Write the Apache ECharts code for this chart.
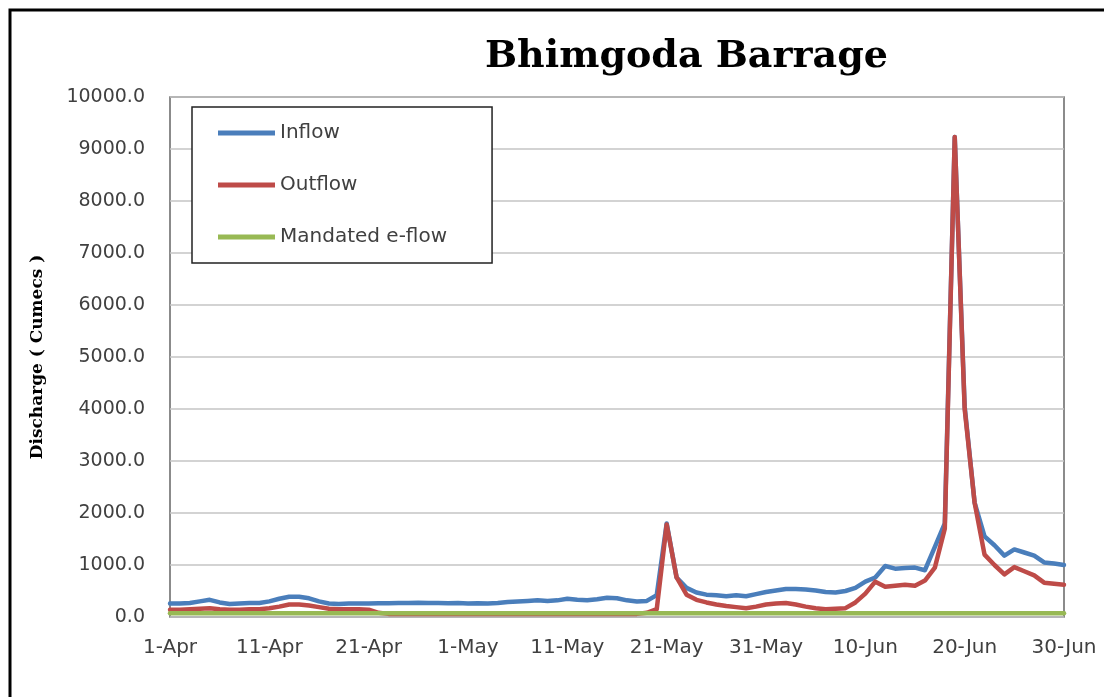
<!DOCTYPE html>
<html>
<head>
<meta charset="utf-8">
<script src="https://cdn.jsdelivr.net/npm/echarts@6/dist/echarts.min.js"></script>
<style>
  html, body { margin: 0; padding: 0; background: #fff; }
  #main { width: 1108px; height: 697px; }
</style>
</head>
<body>
<div id="main"></div>
<script>
// dates 1-Apr .. 30-Jun
const months = [['Apr', 30], ['May', 31], ['Jun', 30]];
const days = [];
months.forEach(function (m) {
  for (let d = 1; d <= m[1]; d++) days.push(d + '-' + m[0]);
});
const tickLabels = ['1-Apr', '11-Apr', '21-Apr', '1-May', '11-May', '21-May', '31-May', '10-Jun', '20-Jun', '30-Jun'];

const inflow = [
  260, 260, 270, 300, 330, 280, 250, 260, 270, 270,
  300, 350, 390, 390, 360, 300, 260, 250, 260, 260,
  260, 265, 265, 270, 270, 275, 270, 270, 265, 270,
  260, 265, 260, 270, 290, 300, 310, 320, 310, 320,
  350, 330, 320, 340, 370, 360, 320, 300, 310, 420,
  1800, 760, 560, 470, 430, 420, 400, 420, 400, 440,
  480,
  510, 540, 540, 530, 510, 480, 470, 500, 560, 680,
  760, 980, 930, 940, 950, 900, 1350, 1800, 9230, 4050,
  2200, 1550, 1380, 1180, 1300, 1240, 1180, 1050, 1030, 1000
];
const outflow = [
  140, 140, 150, 160, 170, 150, 140, 140, 150, 150,
  170, 200, 240, 240, 220, 190, 160, 150, 150, 150,
  140, 80, 60, 60, 60, 60, 60, 60, 60, 60,
  60, 60, 60, 60, 60, 60, 60, 60, 60, 60,
  60, 60, 60, 60, 60, 60, 60, 60, 80, 150,
  1780, 760, 430, 330, 280, 240, 210, 190, 170, 200,
  240,
  260, 270, 240, 200, 170, 150, 160, 170, 280, 450,
  680, 580, 600, 620, 600, 700, 950, 1700, 9230, 4000,
  2200, 1200, 1000, 820, 960, 880, 800, 660, 640, 620
];
const eflow = [
  70, 70, 70, 70, 70, 70, 70, 70, 70, 70,
  70, 70, 70, 70, 70, 70, 70, 70, 70, 70,
  70, 70, 70, 70, 70, 70, 70, 70, 70, 70,
  70, 70, 70, 70, 70, 70, 70, 70, 70, 70,
  70, 70, 70, 70, 70, 70, 70, 70, 70, 70,
  70, 70, 70, 70, 70, 70, 70, 70, 70, 70,
  70,
  70, 70, 70, 70, 70, 70, 70, 70, 70, 70,
  70, 70, 70, 70, 70, 70, 70, 70, 70, 70,
  70, 70, 70, 70, 70, 70, 70, 70, 70, 70
];

const chart = echarts.init(document.getElementById('main'));

function lineSeries(name, data, color) {
  return {
    name: name,
    type: 'line',
    data: data,
    symbol: 'none',
    smooth: false,
    lineStyle: { color: color, width: 4.5, cap: 'round', join: 'round' },
    itemStyle: { color: color },
    animation: false
  };
}

const option = {
  backgroundColor: '#fff',
  animation: false,
  title: {
    text: 'Bhimgoda Barrage',
    left: 485,
    top: 38,
    padding: 0,
    textStyle: { fontFamily: 'DejaVu Serif', fontWeight: 'bold', fontSize: 38, color: '#000' }
  },
  grid: {
    left: 170, right: 44, top: 97, bottom: 80,
    show: true, borderColor: '#666', borderWidth: 1.5, backgroundColor: '#fff'
  },
  legend: {
    orient: 'vertical',
    left: 192,
    top: 107,
    padding: [16, 45, 16, 26],
    itemGap: 32,
    itemWidth: 57,
    itemHeight: 5,
    icon: 'rect',
    borderColor: '#222',
    borderWidth: 1.5,
    backgroundColor: '#fff',
    textStyle: { fontFamily: 'DejaVu Sans', fontSize: 20, color: '#404040', lineHeight: 20 },
    data: ['Inflow', 'Outflow', 'Mandated e-flow']
  },
  xAxis: {
    type: 'category',
    data: days,
    boundaryGap: false,
    axisLine: { show: false },
    axisTick: { show: false },
    axisLabel: {
      interval: function (i, v) { return tickLabels.indexOf(v) >= 0; },
      margin: 21,
      fontFamily: 'DejaVu Sans',
      fontSize: 20,
      color: '#404040'
    },
    splitLine: { show: false }
  },
  yAxis: {
    type: 'value',
    min: 0,
    max: 10000,
    interval: 1000,
    name: 'Discharge ( Cumecs )',
    nameLocation: 'middle',
    nameGap: 124,
    nameTextStyle: { fontFamily: 'DejaVu Serif', fontWeight: 'bold', fontSize: 17, color: '#000' },
    axisLine: { show: false },
    axisTick: { show: false },
    axisLabel: {
      formatter: function (v) { return v.toFixed(1); },
      margin: 25,
      fontFamily: 'DejaVu Sans',
      fontSize: 19,
      color: '#404040'
    },
    splitLine: { lineStyle: { color: '#c4c4c4', width: 1.5 } }
  },
  graphic: [
    {
      type: 'polyline',
      shape: { points: [[10, 697], [10, 10], [1104, 10]] },
      style: { stroke: '#000', lineWidth: 3, fill: null },
      silent: true
    }
  ],
  series: [
    lineSeries('Inflow', inflow, '#4a7ebb'),
    lineSeries('Outflow', outflow, '#be4b48'),
    lineSeries('Mandated e-flow', eflow, '#98b954')
  ]
};

chart.setOption(option);
window.addEventListener('resize', function () {
  chart.resize();
});
</script>
</body>
</html>
